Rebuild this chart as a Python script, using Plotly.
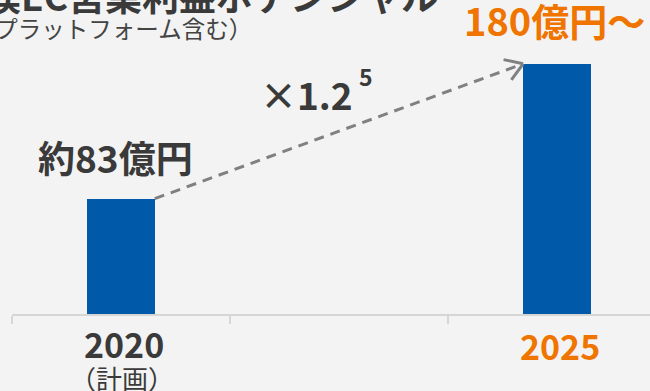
import math
import plotly.graph_objects as go

# ---- data ----
categories = ["2020", "mid", "2025"]
values = [83, None, 180]
bar_labels = ["約83億円", None, "180億円〜"]
tick_main = ["2020", "", "2025"]
tick_sub = ["（計画）", "", ""]
growth_label = "×1.2"
growth_exp = "5"
title_text = "規模EC営業利益ポテンシャル"
subtitle_text = "（ECプラットフォーム含む）"

BLUE = "#0059a9"
ORANGE = "#f07400"
DARK = "#3a3a3a"
GREY = "#808080"
BG = "#f2f3f2"
FONT = "Noto Sans CJK JP"
BAR_W = 0.31

W, H = 650, 391
ML, MB = 12, 77
PW, PH = W - ML, H - MB


def pxx(x):
    return (x - ML) / PW


def pxy(y):
    return (PH - y) / PH


fig = go.Figure()
fig.add_trace(go.Bar(
    x=list(range(len(categories))), y=values, width=BAR_W,
    marker=dict(color=BLUE, line=dict(width=0)),
    hoverinfo="skip", showlegend=False,
))

# dashed growth arrow from top of first bar to top of last bar
x0, y0 = 0 + BAR_W / 2, values[0]
x1, y1 = 2 - BAR_W / 2, values[2]
fig.add_shape(type="line", xref="x", yref="y", x0=x0, y0=y0, x1=x1, y1=y1,
              line=dict(color=GREY, width=3, dash="10px,7px"))
# open chevron arrowhead at the tip (pixel offsets)
ang = math.radians(21)
L = 20
for s in (1, -1):
    a = math.pi + ang + s * math.radians(33)
    fig.add_shape(type="line", xref="x", yref="y",
                  xsizemode="pixel", ysizemode="pixel",
                  xanchor=x1, yanchor=y1,
                  x0=0, y0=0, x1=L * math.cos(a), y1=L * math.sin(a),
                  line=dict(color=GREY, width=3))


def label(text, x, y, size, color, bold=True, xanchor="center"):
    t = f"<b>{text}</b>" if bold else text
    return dict(x=pxx(x), y=pxy(y), xref="paper", yref="paper", text=t,
                showarrow=False, xanchor=xanchor, yanchor="middle",
                font=dict(family=FONT, size=size, color=color))


ann = [
    label(bar_labels[0], 115, 157, 37, DARK),
    label(bar_labels[2], 554, 20, 38, ORANGE),
    label(growth_label, 306, 94, 37, DARK),
    label(growth_exp, 366, 76, 23, DARK),
    label(tick_main[0], 123.5, 343.5, 34, DARK),
    label(tick_sub[0], 122, 377, 26, DARK, bold=False),
    label(tick_main[2], 559.5, 345.5, 34, ORANGE),
    label(title_text, 440, -5, 37, DARK, xanchor="right"),
    label(subtitle_text, 254, 28, 23.5, "#444444", bold=False, xanchor="right"),
]

fig.update_layout(
    width=W, height=H,
    margin=dict(l=ML, r=0, t=0, b=MB),
    paper_bgcolor=BG, plot_bgcolor=BG,
    annotations=ann,
    bargap=0,
    xaxis=dict(range=[-0.5, 2.427], tickmode="array",
               tickvals=[-0.5, 0.5, 1.5], ticktext=["", "", ""],
               showgrid=False, zeroline=False,
               showline=True, linecolor="#d6d6d6", linewidth=2,
               ticks="outside", ticklen=8,
               tickcolor="#d6d6d6", tickwidth=2, fixedrange=True),
    yaxis=dict(range=[0, 225.9], visible=False, fixedrange=True),
)
fig.write_html("out.html")
